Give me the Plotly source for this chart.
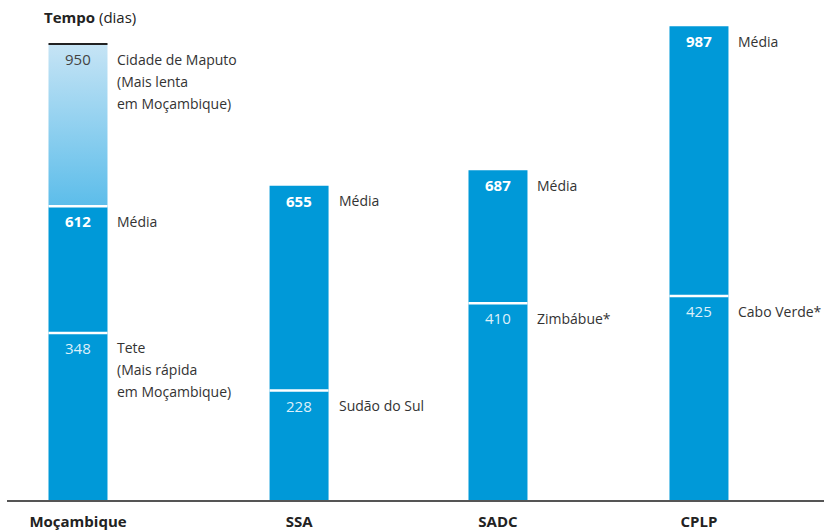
import plotly.graph_objects as go

# ---- data ----
regions = ["Moçambique", "SSA", "SADC", "CPLP"]
media_values = [612, 655, 687, 987]
fastest_values = [348, 228, 410, 425]
fastest_labels = [["Tete", "(Mais rápida", "em Moçambique)"], ["Sudão do Sul"], ["Zimbábue*"], ["Cabo Verde*"]]
slowest_value = 950
slowest_label = ["Cidade de Maputo", "(Mais lenta", "em Moçambique)"]
media_label = "Média"

# ---- layout constants ----
SLOTS = [0, 1.068, 2.029, 3.0]
W = 0.285
BLUE = "#0099D8"
FONT = "Open Sans"
TXT = "#333333"
LINE_H = 22

fig = go.Figure()

fig.add_trace(go.Bar(x=SLOTS, y=media_values, width=W, marker=dict(color=BLUE, line=dict(width=0)),
                     hoverinfo="skip", showlegend=False))

# gradient segment (Moçambique: media -> slowest)
s0 = SLOTS[0]
fig.add_trace(go.Scatter(
    x=[s0 - W / 2, s0 + W / 2, s0 + W / 2, s0 - W / 2, s0 - W / 2],
    y=[media_values[0], media_values[0], slowest_value, slowest_value, media_values[0]],
    mode="lines", line=dict(width=0), fill="toself",
    fillgradient=dict(type="vertical", colorscale=[[0, "#5CBDEA"], [1, "#C6E4F5"]]),
    hoverinfo="skip", showlegend=False))

shapes = []
annotations = []


def side_label(s, y, lines):
    for k, t in enumerate(lines):
        annotations.append(dict(x=s + W / 2, y=y, xref="x", yref="y", text=t,
                                showarrow=False, xanchor="left", yanchor="middle",
                                xshift=8, yshift=-15 - k * LINE_H,
                                font=dict(family=FONT, size=14, color=TXT)))


def in_label(s, y, text, color):
    annotations.append(dict(x=s, y=y, xref="x", yref="y", text=text,
                            showarrow=False, yanchor="middle", yshift=-15,
                            font=dict(family=FONT, size=15, color=color)))


for i, s in enumerate(SLOTS):
    shapes.append(dict(type="line", xref="x", yref="y", x0=s - W / 2, x1=s + W / 2,
                       y0=fastest_values[i], y1=fastest_values[i], line=dict(color="white", width=2.5)))
    in_label(s, media_values[i], f"<b>{media_values[i]}</b>", "white")
    in_label(s, fastest_values[i], str(fastest_values[i]), "#DDF0FA")
    side_label(s, media_values[i], [media_label])
    side_label(s, fastest_values[i], fastest_labels[i])

# Moçambique extra lines and slowest
shapes.append(dict(type="line", xref="x", yref="y", x0=s0 - W / 2, x1=s0 + W / 2,
                   y0=media_values[0], y1=media_values[0], line=dict(color="white", width=2.5)))
shapes.append(dict(type="line", xref="x", yref="y", x0=s0 - W / 2, x1=s0 + W / 2,
                   y0=slowest_value, y1=slowest_value, line=dict(color="#222222", width=2)))
in_label(s0, slowest_value, str(slowest_value), "#444444")
side_label(s0, slowest_value, slowest_label)

fig.update_layout(
    width=824, height=532,
    margin=dict(l=7, r=0, t=10, b=32),
    plot_bgcolor="white", paper_bgcolor="white",
    shapes=shapes, annotations=annotations,
    title=dict(text="<b>Tempo</b> (dias)", xref="container", yref="container",
               x=44 / 824, y=1 - 18 / 532, xanchor="left", yanchor="middle",
               font=dict(family=FONT, size=15, color="#222222")),
    xaxis=dict(range=[-0.343, 3.604], tickvals=SLOTS, ticktext=regions, showgrid=False, zeroline=False,
               showline=True, linecolor="#555555", linewidth=2, ticks="", ticklabelstandoff=7,
               tickfont=dict(family=FONT, size=15, color="#222222", weight="bold")),
    yaxis=dict(range=[0, 1021], visible=False, showgrid=False, zeroline=False),
)

fig.write_html("out.html", config={"displayModeBar": False},
               post_script="document.body.style.margin='0';")
